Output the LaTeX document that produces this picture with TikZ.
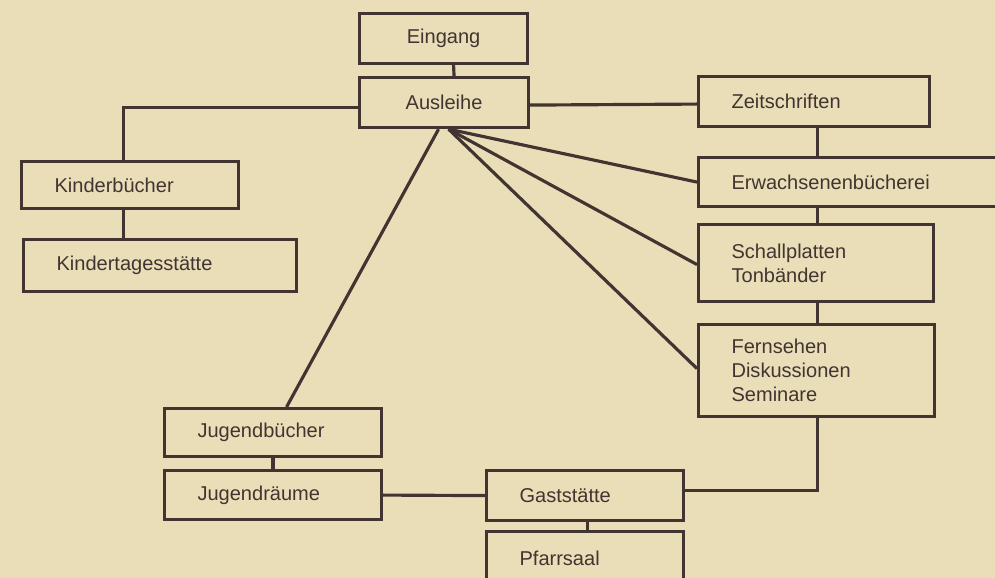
\documentclass[tikz,border=0pt]{standalone}
\usepackage{fontspec}
\setmainfont{Liberation Sans}
\usepackage{tikz}
\usetikzlibrary{positioning}
\usepackage{xcolor}
\definecolor{paper_color}{RGB}{233, 222, 184}
\definecolor{ink_color}{RGB}{66, 52, 48}

\tikzset{
  room/.style={draw=ink_color, line width=1.8pt, fill=paper_color, text=ink_color,
    anchor=north west, align=left, inner xsep=0.66cm, inner ysep=0pt,
    font=\fontsize{11.4pt}{13.6pt}\selectfont},
  link/.style={draw=ink_color, line width=1.8pt}
}

\begin{document}
\begin{tikzpicture}[x=0.02cm, y=-0.02cm]

      % 0. Papier
      \useasboundingbox (0,0) rectangle (995,578);
      \fill[paper_color] (0,0) rectangle (995,578);
      \clip (0,0) rectangle (995,578);

      % 1. KÄSTEN (Mitte und links)
      \node[room, align=center, text width=2.04cm, minimum height=1.0cm] (eingang) at (358,12) {Eingang};
      \node[room, align=center, text width=2.06cm, minimum height=1.0cm] (ausleihe) at (358,76) {Ausleihe};
      \node[room, text width=3.02cm, minimum height=0.94cm] (kinder) at (20,160) {Kinderbücher};
      \node[room, text width=4.14cm, minimum height=1.04cm] (kita) at (22,238) {Kindertagesstätte};

      % 2. KÄSTEN (rechte Spalte)
      \node[room, text width=3.30cm, minimum height=1.0cm] (zeit) at (697,75) {Zeitschriften};
      \node[room, text width=5.08cm, minimum height=0.98cm] (erw) at (697,156) {Erwachsenenbücherei};
      \node[room, text width=3.38cm, minimum height=1.54cm] (schall) at (697,223) {Schallplatten\\ Tonbänder};
      \node[room, text width=3.40cm, minimum height=1.84cm] (fern) at (697,323) {Fernsehen\\ Diskussionen\\ Seminare};

      % 3. KÄSTEN (unten)
      \node[room, text width=3.02cm, minimum height=0.96cm] (jbuch) at (163,407) {Jugendbücher};
      \node[room, text width=3.02cm, minimum height=0.98cm] (jraum) at (163,469) {Jugendräume};
      \node[room, text width=2.62cm, minimum height=1.0cm] (gast) at (485,469) {Gaststätte};
      \node[room, text width=2.62cm, minimum height=1.08cm] (pfarr) at (485,530) {Pfarrsaal};

      % 4. VERBINDUNGEN
      \coordinate (spine) at ([xshift=0.07cm]zeit.south);
      \coordinate (kspine) at ([xshift=-0.13cm]kinder.south);
      \draw[link] ([xshift=0.2cm]eingang.south) -- ([xshift=0.2cm]ausleihe.north);
      \draw[link] ([yshift=-0.1cm]ausleihe.west) -| (kspine |- kinder.north);
      \draw[link] (kspine) -- (kspine |- kita.north);
      \draw[link] ([yshift=-0.05cm]ausleihe.east) -- ([yshift=-0.05cm]zeit.west);
      \draw[link] (spine) -- (spine |- erw.north);
      \draw[link] (spine |- erw.south) -- (spine |- schall.north);
      \draw[link] (spine |- schall.south) -- (spine |- fern.north);
      \draw[link] (spine |- fern.south) |- ([yshift=0.1cm]gast.east);
      \draw[link] (jbuch.south) -- (jraum.north);
      \draw[link] (jraum.east) -- (gast.west);
      \draw[link] ([xshift=0.05cm]gast.south) -- ([xshift=0.05cm]pfarr.north);

      % 5. STRAHLEN von der Ausleihe
      \draw[link] ([xshift=-0.11cm]ausleihe.south) -- ([xshift=0.27cm]jbuch.north);
      \draw[link] ([xshift=0.09cm]ausleihe.south) -- (erw.west);
      \draw[link] ([xshift=0.09cm]ausleihe.south) -- ([yshift=-0.03cm]schall.west);
      \draw[link] ([xshift=0.09cm]ausleihe.south) -- ([yshift=0.04cm]fern.west);

\end{tikzpicture}
\end{document}
